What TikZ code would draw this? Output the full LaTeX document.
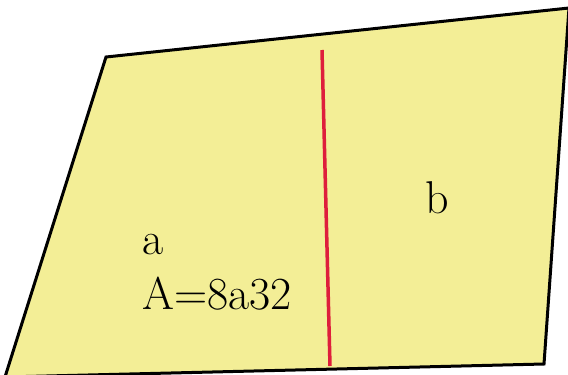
\documentclass[tikz,border=0pt]{standalone}
\definecolor{paper}{RGB}{243,238,150}
\definecolor{cutred}{RGB}{222,30,60}
\begin{document}
\begin{tikzpicture}[x=1pt,y=-1pt,
  lbl/.style={inner sep=0pt,anchor=base west,font=\fontsize{46}{50}\selectfont}]
\useasboundingbox (0,0) rectangle (568,375);
\coordinate (tl) at (106,57);
\coordinate (tr) at (569,8);
\coordinate (br) at (544,364);
\coordinate (bl) at (5,377);
\begin{scope}
\clip (0,0) rectangle (568,375);
\draw[fill=paper,line width=3pt,line join=miter] (tl) -- (tr) -- (br) -- (bl) -- cycle;
\end{scope}
\coordinate (rt) at (322,50);
\coordinate (rb) at (330,366);
\draw[cutred,line width=3.5pt] (rt) -- (rb);
\node[lbl] (a) at (142,254) {a};
\node[lbl] (A) at (142,309) {A=8a32};
\node[lbl] (b) at (425,213) {b};
\end{tikzpicture}
\end{document}
